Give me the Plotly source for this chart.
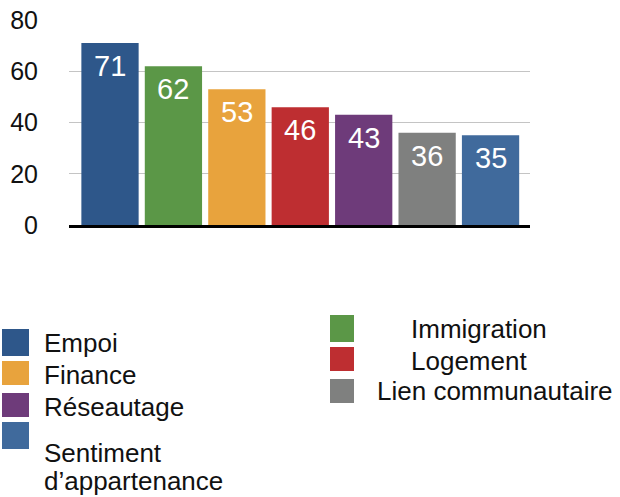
import plotly.graph_objects as go

categories = ["Empoi", "Immigration", "Finance", "Logement", "Réseautage",
              "Lien communautaire", "Sentiment d’appartenance"]
values = [71, 62, 53, 46, 43, 36, 35]
colors = ["#2E578A", "#5B9747", "#E8A33D", "#BE2E31", "#6E3B7A", "#7F807F", "#406A9C"]
y_ticks = [0, 20, 40, 60, 80]

# legend layout: (category index, column)
legend_left = [0, 2, 4, 6]
legend_right = [1, 3, 5]

W, H = 620, 497
L, R, T, B = 69, 90, 20, 272
PW, PH = W - L - R, H - T - B
FONT = "Liberation Sans, Arial, sans-serif"


def px2x(px):
    return (px - L) / PW


def py2y(py):
    return (T + PH - py) / PH


fig = go.Figure()
fig.add_trace(go.Bar(
    x=categories, y=values, marker=dict(color=colors, line=dict(width=0)),
    showlegend=False, hoverinfo="x+y",
))

annotations = []
for c, v in zip(categories, values):
    annotations.append(dict(
        x=c, y=v, xref="x", yref="y", text=str(v), showarrow=False,
        yanchor="top", xanchor="center", yshift=-5,
        font=dict(family=FONT, size=29, color="white"),
    ))

shapes = []
left_boxes = [(329, 356), (361, 385), (393, 417), (422, 449)]
left_text_y = [343, 375, 407, 453]
for idx, (y0, y1), ty in zip(legend_left, left_boxes, left_text_y):
    shapes.append(dict(type="rect", xref="paper", yref="paper",
                       x0=px2x(2), x1=px2x(29), y0=py2y(y1), y1=py2y(y0),
                       fillcolor=colors[idx], line=dict(width=0)))
    name = categories[idx]
    if idx == 6:
        parts = ["Sentiment", "d’appartenance"]
        ys = [453, 481.5]
    else:
        parts = [name]
        ys = [ty]
    for p, yy in zip(parts, ys):
        annotations.append(dict(
            x=px2x(43), y=py2y(yy), xref="paper", yref="paper", text=p,
            showarrow=False, xanchor="left", yanchor="middle", borderpad=0,
            font=dict(family=FONT, size=26, color="#111111"),
        ))

right_boxes = [(315, 342), (347, 371), (379, 403)]
right_text = [(410, 328.5), (410, 361), (376, 390.5)]
for idx, (y0, y1), (tx, ty) in zip(legend_right, right_boxes, right_text):
    shapes.append(dict(type="rect", xref="paper", yref="paper",
                       x0=px2x(330), x1=px2x(354), y0=py2y(y1), y1=py2y(y0),
                       fillcolor=colors[idx], line=dict(width=0)))
    annotations.append(dict(
        x=px2x(tx), y=py2y(ty), xref="paper", yref="paper", text=categories[idx],
        showarrow=False, xanchor="left", yanchor="middle", borderpad=0,
        font=dict(family=FONT, size=26, color="#111111"),
    ))

fig.update_layout(
    width=W, height=H,
    margin=dict(l=L, r=R, t=T, b=B, pad=0, autoexpand=False),
    paper_bgcolor="white", plot_bgcolor="white",
    bargap=0.097,
    font=dict(family=FONT, color="#111111"),
    xaxis=dict(range=[-0.6465, 6.622], showticklabels=False, showgrid=False,
               showline=True, linecolor="black", linewidth=3, ticks="",
               zeroline=False, fixedrange=True, automargin=False),
    yaxis=dict(range=[0, 80], tickvals=y_ticks, showgrid=True,
               gridcolor="#c4c4c4", gridwidth=1.4, zeroline=False,
               showline=False, ticks="", ticklabelstandoff=30,
               tickfont=dict(family=FONT, size=25, color="#111111"),
               fixedrange=True, automargin=False),
    shapes=shapes, annotations=annotations,
)

fig.write_html("out.html", config={"displayModeBar": False},
               post_script="document.body.style.margin='0';document.body.style.padding='0';")
